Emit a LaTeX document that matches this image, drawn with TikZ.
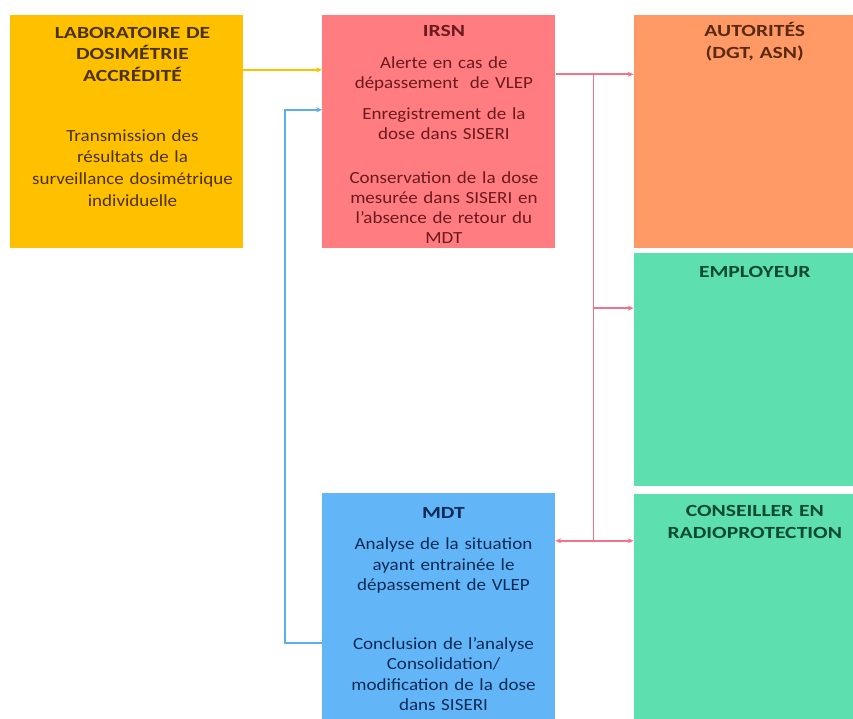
\documentclass[tikz,border=0pt]{standalone}
\usepackage{fontspec}
\setmainfont{Carlito}[FakeStretch=1.12, BoldFeatures={FakeStretch=1.27}]
\usetikzlibrary{positioning,calc,arrows.meta}
\definecolor{labfill}{HTML}{FFC000}
\definecolor{labtext}{HTML}{4A3300}
\definecolor{irsnfill}{HTML}{FF7C80}
\definecolor{irsntext}{HTML}{6B1A1E}
\definecolor{autfill}{HTML}{FF9966}
\definecolor{auttext}{HTML}{5A2A10}
\definecolor{empfill}{HTML}{5EDFB0}
\definecolor{emptext}{HTML}{0A4A30}
\definecolor{mdtfill}{HTML}{62B6F7}
\definecolor{mdttext}{HTML}{0C2A55}
\definecolor{yline}{HTML}{FFC000}
\definecolor{bline}{HTML}{5DAEF0}
\definecolor{rline}{HTML}{F2738C}
\tikzset{
box/.style={rectangle, inner sep=0pt, minimum width=233pt, minimum height=233pt}, % coloured blocks
boxtext/.style={text width=225pt, align=center, inner sep=0pt, font=\fontsize{17}{20.5}\selectfont},
link/.style={line width=1.6pt, -{Stealth[length=6pt,width=5pt]}},
}

\begin{document}
\begin{tikzpicture}[x=1pt,y=-1pt]
   \useasboundingbox[fill=white] (0,0) rectangle (853,719);
   % blocks
   \node[box, fill=labfill] (lab) at (126.5,131.5) {};
   \node[box, fill=irsnfill] (irsn) [right=79pt of lab] {};
   \node[box, fill=autfill, minimum width=220pt] (aut) [right=78pt of irsn] {};
   \node[box, fill=empfill, minimum width=220pt] (emp) [below=5pt of aut] {};
   \node[box, fill=empfill, minimum width=220pt, minimum height=226pt] (cons) [below=7pt of emp] {};
   \node[box, fill=mdtfill, minimum height=226pt] (mdt) at (438.5,606) {};
   % texts
   \node[boxtext, text=labtext, font=\fontsize{17}{21.7}\selectfont] (labtxt) [below=12pt of lab.north, xshift=6pt]
      {\textbf{LABORATOIRE DE}\\\textbf{DOSIMÉTRIE}\\\textbf{ACCRÉDITÉ}\\[38pt]
       Transmission des\\résultats de la\\surveillance dosimétrique\\individuelle};
   \node[boxtext, text=irsntext, font=\fontsize{17}{20}\selectfont] (irsntxt) [below=10pt of irsn.north, xshift=5pt]
      {\textbf{IRSN}\\[12pt]Alerte en cas de\\dépassement~ de VLEP\\[11pt]
       Enregistrement de la\\dose dans SISERI\\[24pt]
       Conservation de la dose\\mesurée dans SISERI en\\l'absence de retour du\\MDT};
   \node[boxtext, text=mdttext] (mdttxt) [below=14pt of mdt.north, xshift=5pt]
      {\textbf{MDT}\\[11pt]Analyse de la situation\\ayant entrainée le\\dépassement de VLEP\\[38pt]
       Conclusion de l'analyse\\Consolidation/\\modification de la dose\\dans SISERI};
   \node[boxtext, text=auttext, font=\fontsize{17}{22.5}\selectfont] (auttxt) [below=7pt of aut.north, xshift=11pt]
      {\textbf{AUTORITÉS}\\\textbf{(DGT, ASN)}};
   \node[boxtext, text=emptext] (emptxt) [below=13pt of emp.north, xshift=11pt] {\textbf{EMPLOYEUR}};
   \node[boxtext, text=emptext, font=\fontsize{17}{21.5}\selectfont] (constxt) [below=12pt of cons.north, xshift=11pt]
      {\textbf{CONSEILLER EN}\\\textbf{RADIOPROTECTION}};
   % connectors
   \coordinate (labout) at ([yshift=-55pt]lab.north east);
   \coordinate (irsnout) at ([yshift=-59.5pt]irsn.north east);
   \coordinate (irsnin) at ([yshift=-95pt]irsn.north west);
   \coordinate (mdtout) at ([yshift=-150pt]mdt.north west);
   \coordinate (mdtin) at ([yshift=-48pt]mdt.north east);
   \coordinate (empin) at ([yshift=-55pt]emp.north west);
   \coordinate (forktop) at ([xshift=38pt]irsnout);
   \coordinate (forkbot) at (forktop |- mdtin);
   \draw[link, yline] (labout) -- (labout -| irsn.west);
   \draw[link, bline] (mdtout) -- ++(-37,0) |- (irsnin);
   \draw[link, rline] (irsnout) -- (irsnout -| aut.west);
   \draw[rline, line width=1.6pt] (forktop) -- (forkbot);
   \draw[link, rline] (forktop |- empin) -- (empin);
   \draw[link, rline] (forkbot) -- (mdtin);
   \draw[link, rline] (forkbot) -- (mdtin -| cons.west);
\end{tikzpicture}
\end{document}
